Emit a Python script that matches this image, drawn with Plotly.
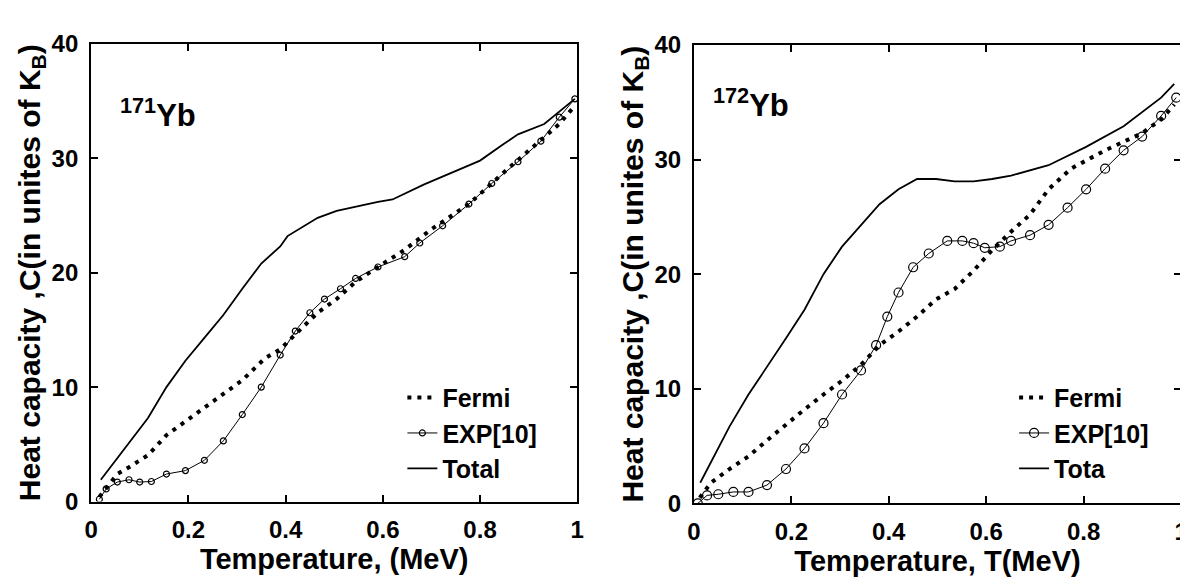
import plotly.graph_objects as go

# ---------------- 171Yb (left panel) ----------------
T171_total = [0.02, 0.078, 0.117, 0.155, 0.194, 0.233, 0.272, 0.311, 0.35, 0.389, 0.404,
              0.466, 0.505, 0.59, 0.62, 0.684, 0.754, 0.80, 0.847, 0.878, 0.932, 0.995]
C171_total = [1.9, 5.1, 7.3, 10.0, 12.3, 14.3, 16.3, 18.6, 20.8, 22.3, 23.2,
              24.8, 25.4, 26.2, 26.4, 27.7, 29.0, 29.8, 31.2, 32.1, 33.0, 35.2]

T171_exp = [0.017, 0.031, 0.054, 0.078, 0.10, 0.124, 0.155, 0.194, 0.233, 0.272, 0.311, 0.35,
            0.389, 0.42, 0.45, 0.48, 0.513, 0.544, 0.59, 0.645, 0.676, 0.723, 0.777, 0.824,
            0.878, 0.925, 0.963, 0.995]
C171_exp = [0.2, 1.1, 1.7, 1.9, 1.7, 1.75, 2.4, 2.7, 3.6, 5.3, 7.6, 10.0,
            12.8, 14.9, 16.5, 17.7, 18.6, 19.5, 20.5, 21.4, 22.6, 24.1, 26.0, 27.8,
            29.7, 31.5, 33.6, 35.2]

T171_fermi = [0.017, 0.054, 0.078, 0.117, 0.155, 0.194, 0.233, 0.272, 0.311, 0.357, 0.389,
              0.427, 0.466, 0.505, 0.544, 0.59, 0.645, 0.70, 0.777, 0.855, 0.932, 0.963, 0.995]
C171_fermi = [0.4, 2.4, 3.0, 4.05, 5.8, 7.0, 8.3, 9.4, 10.6, 12.5, 13.3,
              14.9, 16.5, 17.7, 19.2, 20.5, 22.0, 23.8, 26.0, 29.0, 31.8, 33.0, 34.6]

# ---------------- 172Yb (right panel) ----------------
T172_total = [0.013, 0.035, 0.073, 0.112, 0.15, 0.189, 0.227, 0.266, 0.304, 0.343, 0.381,
              0.42, 0.458, 0.497, 0.535, 0.574, 0.612, 0.651, 0.728, 0.805, 0.882, 0.959, 0.986]
C172_total = [1.8, 3.6, 6.7, 9.5, 11.9, 14.4, 16.9, 20.0, 22.4, 24.3, 26.1,
              27.4, 28.3, 28.3, 28.1, 28.1, 28.3, 28.6, 29.5, 31.1, 32.9, 35.4, 36.6]

T172_exp = [0.008, 0.027, 0.05, 0.081, 0.112, 0.15, 0.189, 0.227, 0.266, 0.304, 0.343, 0.374,
            0.397, 0.42, 0.45, 0.482, 0.52, 0.551, 0.574, 0.597, 0.628, 0.651, 0.69, 0.728,
            0.767, 0.805, 0.844, 0.882, 0.92, 0.959, 0.99]
C172_exp = [0.0, 0.7, 0.8, 1.0, 1.0, 1.6, 3.0, 4.8, 7.0, 9.5, 11.6, 13.8,
            16.3, 18.4, 20.6, 21.8, 22.9, 22.9, 22.7, 22.3, 22.4, 22.9, 23.4, 24.3,
            25.8, 27.4, 29.2, 30.8, 32.0, 33.8, 35.4]

T172_fermi = [0.012, 0.035, 0.073, 0.112, 0.15, 0.189, 0.227, 0.266, 0.304, 0.343, 0.381,
              0.42, 0.458, 0.497, 0.535, 0.574, 0.612, 0.651, 0.69, 0.728, 0.774, 0.844,
              0.92, 0.959, 0.986]
C172_fermi = [0.5, 1.8, 3.0, 4.1, 5.5, 6.9, 8.2, 9.5, 10.7, 12.1, 13.8,
              15.0, 16.3, 17.8, 18.7, 20.3, 22.1, 23.7, 25.2, 27.4, 29.2, 30.8,
              32.3, 33.5, 34.8]

x_ticks = [0, 0.2, 0.4, 0.6, 0.8, 1]
x_tick_text = ["0", "0.2", "0.4", "0.6", "0.8", "1"]
y_ticks = [0, 10, 20, 30, 40]
y_tick_text = ["0", "10", "20", "30", "40"]

FONT = "Liberation Sans, Arial, sans-serif"
W, H = 1188, 578

fig = go.Figure()

def add_panel(xa, ya, leg, Tf, Cf, Te, Ce, Tt, Ct, msize, total_name):
    fig.add_trace(go.Scatter(x=Tf, y=Cf, mode="lines", name="Fermi", legend=leg,
                             xaxis=xa, yaxis=ya,
                             line=dict(color="black", width=4, dash="4px,6px")))
    fig.add_trace(go.Scatter(x=Te, y=Ce, mode="lines+markers", name="EXP[10]", legend=leg,
                             xaxis=xa, yaxis=ya,
                             line=dict(color="black", width=1),
                             marker=dict(symbol="circle-open", size=msize, color="black",
                                         line=dict(width=1.2, color="black"))))
    fig.add_trace(go.Scatter(x=Tt, y=Ct, mode="lines", name=total_name, legend=leg,
                             xaxis=xa, yaxis=ya,
                             line=dict(color="black", width=1.8)))

add_panel("x", "y", "legend", T171_fermi, C171_fermi, T171_exp, C171_exp,
          T171_total, C171_total, 6, "Total")
add_panel("x2", "y2", "legend2", T172_fermi, C172_fermi, T172_exp, C172_exp,
          T172_total, C172_total, 9, "Tota")

tickfont = dict(family=FONT, size=24, color="black", weight="bold")
xtitlefont = dict(family=FONT, size=29, color="black", weight="bold")
ytitlefont = dict(family=FONT, size=30, color="black", weight="bold")

def xaxis(domain, title, anchor):
    return dict(domain=domain, range=[0, 1], anchor=anchor, tickvals=x_ticks, ticktext=x_tick_text,
                ticks="inside", ticklen=7, tickwidth=1.5, tickcolor="black",
                showline=True, linecolor="black", linewidth=2, mirror="ticks",
                showgrid=False, zeroline=False, tickfont=tickfont, ticklabelstandoff=6,
                title=dict(text=title, font=xtitlefont, standoff=3))

def yaxis(domain, anchor):
    return dict(domain=domain, range=[0, 40], anchor=anchor, tickvals=y_ticks, ticktext=y_tick_text,
                ticks="inside", ticklen=7, tickwidth=1.5, tickcolor="black",
                showline=True, linecolor="black", linewidth=2, mirror="ticks",
                showgrid=False, zeroline=False, tickfont=tickfont, ticklabelstandoff=6,
                title=dict(text="Heat capacity ,C(in unites of K<sub>B</sub>)", font=ytitlefont,
                           standoff=2))

legfont = dict(family=FONT, size=25, color="black", weight="bold")

fig.update_layout(
    width=W, height=H,
    margin=dict(l=0, r=0, t=0, b=0),
    paper_bgcolor="white", plot_bgcolor="white",
    font=dict(family=FONT, color="black"),
    xaxis=xaxis([77 / W, 569 / W], "Temperature, (MeV)", "y"),
    yaxis=yaxis([1 - 503 / H, 1 - 23 / H], "x"),
    xaxis2=xaxis([687 / W, 1180 / W], "Temperature, T(MeV)", "y2"),
    yaxis2=yaxis([1 - 505 / H, 1 - 24 / H], "x2"),
    legend=dict(x=392 / W, y=1 - 370 / H, xanchor="left", yanchor="top",
                bgcolor="rgba(0,0,0,0)", font=legfont, tracegroupgap=0),
    legend2=dict(x=1011 / W, y=1 - 370 / H, xanchor="left", yanchor="top",
                 bgcolor="rgba(0,0,0,0)", font=legfont, tracegroupgap=0),
    showlegend=True,
    annotations=[
        dict(text="<sup>171</sup>Yb", xref="paper", yref="paper", x=104 / W, y=1 - 95 / H,
             xanchor="left", yanchor="middle", showarrow=False,
             font=dict(family=FONT, size=31, color="black", weight="bold")),
        dict(text="<sup>172</sup>Yb", xref="paper", yref="paper", x=704 / W, y=1 - 85 / H,
             xanchor="left", yanchor="middle", showarrow=False,
             font=dict(family=FONT, size=31, color="black", weight="bold")),
    ],
)

fig.write_html("out.html")
